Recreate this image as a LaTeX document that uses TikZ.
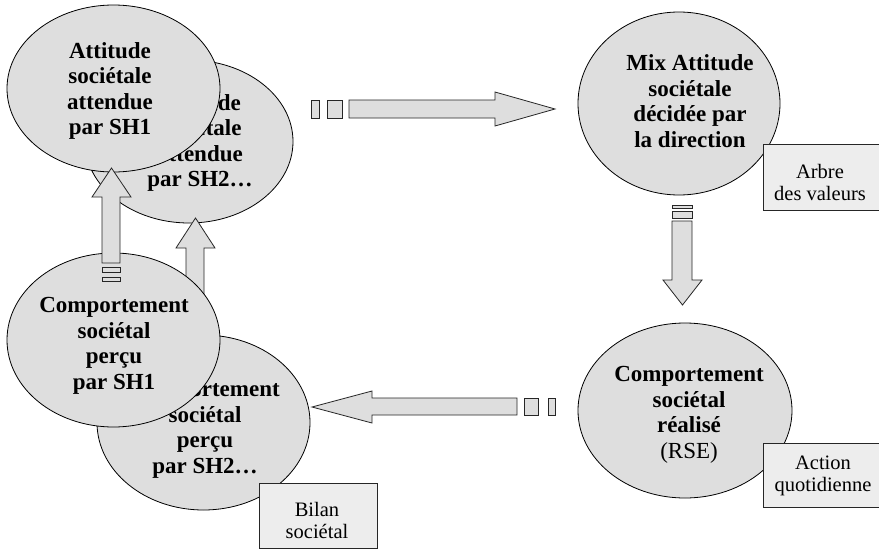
\documentclass[tikz,border=0pt]{standalone}
\usepackage{fontspec}
\setmainfont{Liberation Serif}
\usetikzlibrary{shapes.geometric}
\definecolor{ellfill}{gray}{0.87}
\definecolor{boxfill}{gray}{0.93}
\definecolor{arrfill}{gray}{0.87}
\tikzset{
  ell/.style={ellipse, draw=black, line width=0.8pt, fill=ellfill, inner sep=0pt},
  btxt/.style={align=center, inner sep=0pt, font=\bfseries\fontsize{23}{25.5}\selectfont},
  ntxt/.style={align=center, inner sep=0pt, font=\fontsize{20.5}{22}\selectfont},
  labbox/.style={draw=black!85, line width=0.9pt, fill=boxfill},
  blockarrow/.style={draw=black!85, line width=0.8pt, fill=arrfill, line join=miter}
}
\begin{document}
\begin{tikzpicture}[x=1pt,y=-1pt]
\useasboundingbox (0,0) rectangle (879,549);
\fill[white] (0,0) rectangle (879,549);

% Attitude SH2 (behind)
\node[ell, minimum width=208pt, minimum height=163pt] (a2) at (189,141.5) {};
\node[btxt] (a2t) at (200,143) {Attitude\\sociétale\\attendue\\par SH2…};
% Attitude SH1
\node[ell, minimum width=213pt, minimum height=167pt] (a1) at (113.5,88.5) {};
\node[btxt] (a1t) at (110,91) {Attitude\\sociétale\\attendue\\par SH1};

% up arrow 2 (behind C1)
\draw[blockarrow] (186,300) -- (186,248) -- (176,248) -- (195.5,218) -- (215,248) -- (204,248) -- (204,300) -- cycle;

% Comportement SH2
\node[ell, minimum width=213pt, minimum height=175pt] (c2) at (203.5,422.5) {};
\node[btxt] (c2t) at (205,430) {Comportement\\sociétal\\perçu\\par SH2…};
% Comportement SH1
\node[ell, minimum width=213pt, minimum height=174pt] (c1) at (113.5,340) {};
\node[btxt] (c1t) at (114,346) {Comportement\\sociétal\\perçu\\par SH1};

% up arrow 1
\draw[blockarrow] (102,263) -- (102,197) -- (92,197) -- (111.5,168) -- (131,197) -- (120,197) -- (120,263) -- cycle;
\draw[blockarrow] (102,267) rectangle (120,272);
\draw[blockarrow] (102,277) rectangle (120,281);

% Mix attitude
\node[ell, minimum width=202pt, minimum height=183pt] (mix) at (679,103.5) {};
\node[btxt] (mixt) at (690,101) {Mix Attitude\\sociétale\\décidée par\\la direction};

% Comportement réalisé
\node[ell, minimum width=214pt, minimum height=175pt] (rse) at (685,410.5) {};
\node[btxt] (rset) at (689,415) {Comportement\\sociétal\\réalisé\\\mdseries(RSE)};

% top arrow (right)
\draw[blockarrow] (311,100) rectangle (319,118);
\draw[blockarrow] (327,100) rectangle (342,118);
\draw[blockarrow] (349,100) -- (495,100) -- (495,92) -- (555,109) -- (495,126) -- (495,118) -- (349,118) -- cycle;

% down arrow
\draw[blockarrow] (672,205) rectangle (692,208);
\draw[blockarrow] (672,211) rectangle (692,218);
\draw[blockarrow] (672,221) -- (692,221) -- (692,280) -- (702,280) -- (682.5,305) -- (663,280) -- (672,280) -- cycle;

% bottom arrow (left)
\draw[blockarrow] (517,398) -- (372,398) -- (372,391) -- (312,407) -- (372,423) -- (372,415) -- (517,415) -- cycle;
\draw[blockarrow] (524,398) rectangle (538,415);
\draw[blockarrow] (548,398) rectangle (555,415);

% label boxes
\draw[labbox] (763,144.5) rectangle (882,210);
\node[ntxt] (arbre) at (820,182) {Arbre\\des valeurs};
\draw[labbox] (763,443) rectangle (882,507.5);
\node[ntxt] (action) at (823,476) {Action\\quotidienne};
\draw[labbox] (259,483) rectangle (377,548.5);
\node[ntxt] (bilan) at (317,520) {Bilan\\sociétal};
\end{tikzpicture}
\end{document}
